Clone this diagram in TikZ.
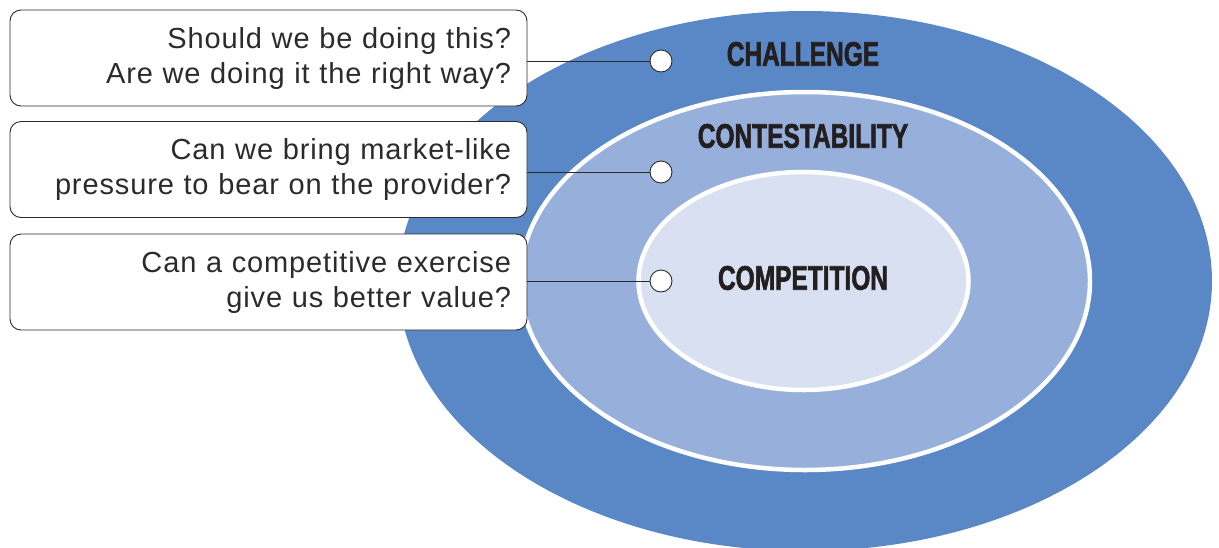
\documentclass[tikz,border=0pt]{standalone}
\usepackage{fontspec}
\setmainfont{Liberation Sans}
\newfontfamily\boxfont{Liberation Sans}[LetterSpace=3]
\newfontfamily\labfont{Liberation Sans Bold}[FakeBold=2.2]
\definecolor{outerblue}{HTML}{5A88C6}
\definecolor{midblue}{HTML}{96AFDB}
\definecolor{innerblue}{HTML}{D9E0F1}
\definecolor{inkc}{HTML}{231F20}
\definecolor{textc}{HTML}{2B2B2B}
\definecolor{linec}{HTML}{2A2A2A}
\tikzset{
  qbox/.style={draw=linec, line width=0.9pt, rounded corners=11pt, fill=white,
    minimum width=517pt, minimum height=96pt, inner xsep=16pt,
    text width=485pt, align=right, text=textc,
    font=\boxfont\fontsize{29pt}{35pt}\selectfont},
  dot/.style={circle, draw=linec, line width=0.9pt, fill=white, minimum size=22pt, inner sep=0pt},
  conn/.style={draw=linec, line width=0.8pt},
  lab/.style={text=inkc, inner sep=0pt, font=\labfont\fontsize{34pt}{36pt}\selectfont},
}
\newcommand{\cond}[1]{\scalebox{0.72}[1]{#1}}
\begin{document}
\begin{tikzpicture}[x=1pt,y=-1pt]
\useasboundingbox (0,0) rectangle (1219,547);
% ellipses
\fill[outerblue] (805,281) ellipse [x radius=407pt, y radius=270pt];
\filldraw[fill=midblue, draw=white, line width=4.5pt] (805,281) ellipse [x radius=285pt, y radius=189pt];
\filldraw[fill=innerblue, draw=white, line width=4.5pt] (803.5,281) ellipse [x radius=165pt, y radius=109pt];
% labels
\node[lab] (lchal) at (803,54) {\cond{CHALLENGE}};
\node[lab] (lcont) at (803,136) {\cond{CONTESTABILITY}};
\node[lab] (lcomp) at (803,278) {\cond{COMPETITION}};
% boxes
\node[qbox] (b1) at (268.5,58) {Should we be doing this?\\Are we doing it the right way?};
\node[qbox] (b2) at (268.5,169.5) {Can we bring market-like\\pressure to bear on the provider?};
\node[qbox] (b3) at (268.5,282) {Can a competitive exercise\\give us better value?};
% dots
\node[dot] (c1) at (661,61) {};
\node[dot] (c2) at (661,172) {};
\node[dot] (c3) at (661,281) {};
% connectors
\draw[conn] (b1.east |- c1) -- (c1.west);
\draw[conn] (b2.east |- c2) -- (c2.west);
\draw[conn] (b3.east |- c3) -- (c3.west);
\end{tikzpicture}
\end{document}
